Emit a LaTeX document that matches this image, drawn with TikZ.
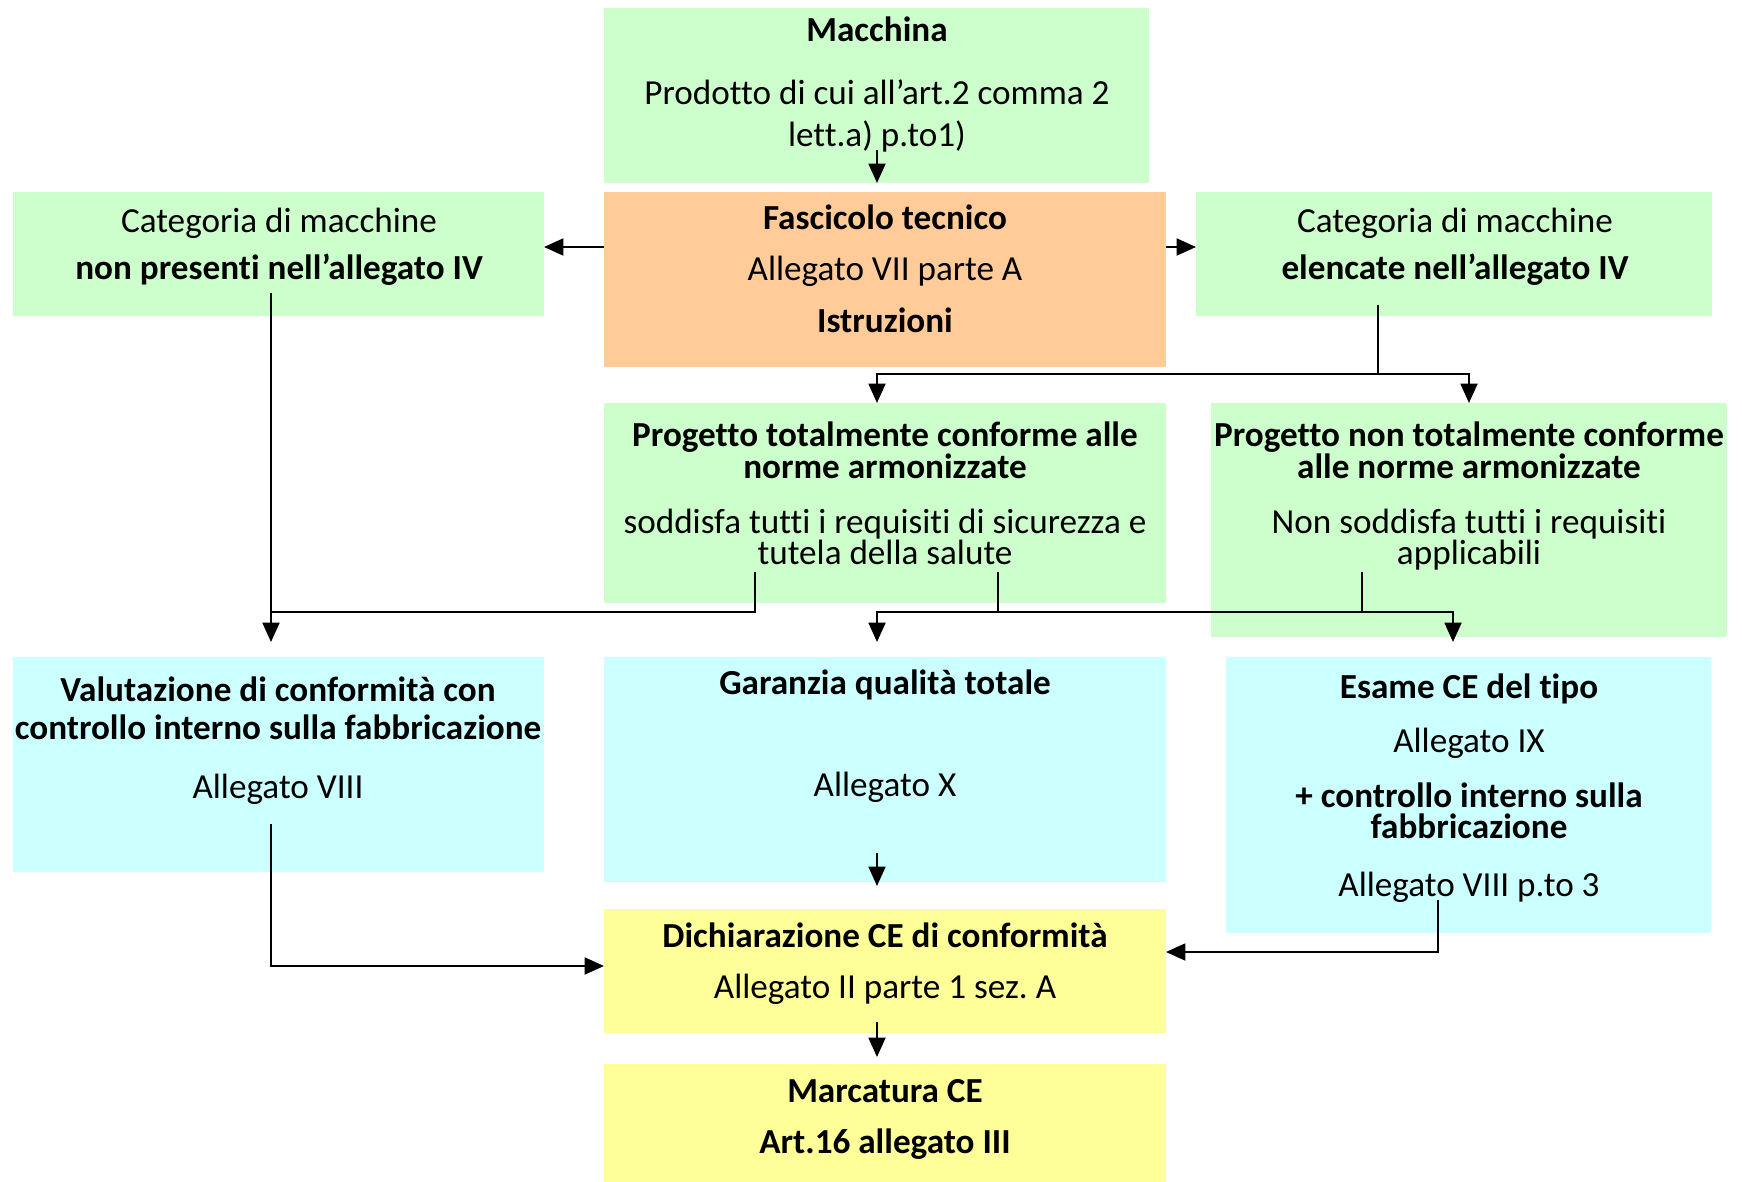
\documentclass[tikz,border=0pt]{standalone}
\usepackage{fontspec}
\setmainfont{Carlito}[Ligatures=NoCommon]
\usepackage{xcolor}
\usetikzlibrary{arrows.meta,fit}
\frenchspacing

\definecolor{cellgreen}{HTML}{CCFFCC}
\definecolor{cellorange}{HTML}{FFCC99}
\definecolor{cellcyan}{HTML}{CCFFFF}
\definecolor{cellyellow}{HTML}{FFFF99}

\tikzset{
  cell/.style={inner sep=0pt, outer sep=0pt},
  body/.style={anchor=base, inner sep=0pt, font=\fontsize{10}{10}\selectfont},
  head/.style={anchor=base, inner sep=0pt, font=\fontsize{10}{10}\selectfont\bfseries},
  link/.style={line width=0.65pt},
  arr/.style={link, -{Triangle[length=5.5pt,width=4.8pt]}},
}

\begin{document}
\begin{tikzpicture}[x=0.01cm,y=-0.01cm]
  \useasboundingbox (0,0) rectangle (1742,1182);
  % boxes
  \node[cell, fill=cellgreen, fit={(604,8) (1149,183)}] (mac) {};
  \node[cell, fill=cellorange, fit={(604,192) (1166,367)}] (fas) {};
  \node[cell, fill=cellgreen, fit={(13,192) (544,316)}] (lcat) {};
  \node[cell, fill=cellgreen, fit={(1196,192) (1712,316)}] (rcat) {};
  \node[cell, fill=cellgreen, fit={(604,403) (1166,603)}] (ptot) {};
  \node[cell, fill=cellgreen, fit={(1211,403) (1727,637)}] (pnon) {};
  \node[cell, fill=cellcyan, fit={(13,657) (544,872)}] (val) {};
  \node[cell, fill=cellcyan, fit={(604,657) (1166,882)}] (gar) {};
  \node[cell, fill=cellcyan, fit={(1226,657) (1711,933)}] (esa) {};
  \node[cell, fill=cellyellow, fit={(604,909) (1166,1033)}] (dich) {};
  \node[cell, fill=cellyellow, fit={(604,1064) (1166,1182)}] (marc) {};

  % texts
  \node[head] (mac1) at (877,42) {Macchina};
  \node[body] (mac2) at (877,105) {Prodotto di cui all’art.2 comma 2};
  \node[body] (mac3) at (877,147) {lett.a) p.to1)};
  \node[head] (fas1) at (885,229) {Fascicolo tecnico};
  \node[body] (fas2) at (885,281) {Allegato VII parte A};
  \node[head] (fas3) at (885,332) {Istruzioni};
  \node[body] (lcat1) at (279,232) {Categoria di macchine};
  \node[head] (lcat2) at (279,279) {non presenti nell’allegato IV};
  \node[body] (rcat1) at (1455,232) {Categoria di macchine};
  \node[head] (rcat2) at (1455,279) {elencate nell’allegato IV};
  \node[head] (ptot1) at (885,446) {Progetto totalmente conforme alle};
  \node[head] (ptot2) at (885,478) {norme armonizzate};
  \node[body] (ptot3) at (885,533) {soddisfa tutti i requisiti di sicurezza e};
  \node[body] (ptot4) at (885,564) {tutela della salute};
  \node[head] (pnon1) at (1469,446) {Progetto non totalmente conforme};
  \node[head] (pnon2) at (1469,478) {alle norme armonizzate};
  \node[body] (pnon3) at (1469,533) {Non soddisfa tutti i requisiti};
  \node[body] (pnon4) at (1469,564) {applicabili};
  \node[head] (val1) at (278,701) {Valutazione di conformità con};
  \node[head] (val2) at (278,739) {controllo interno sulla fabbricazione};
  \node[body] (val3) at (278,798) {Allegato VIII};
  \node[head] (gar1) at (885,694) {Garanzia qualità totale};
  \node[body] (gar2) at (885,796) {Allegato X};
  \node[head] (esa1) at (1469,698) {Esame CE del tipo};
  \node[body] (esa2) at (1469,752) {Allegato IX};
  \node[head] (esa3) at (1469,807) {+ controllo interno sulla};
  \node[head] (esa4) at (1469,838) {fabbricazione};
  \node[body] (esa5) at (1469,896) {Allegato VIII p.to 3};
  \node[head] (dich1) at (885,947) {Dichiarazione CE di conformità};
  \node[body] (dich2) at (885,998) {Allegato II parte 1 sez. A};
  \node[head] (marc1) at (885,1102) {Marcatura CE};
  \node[head] (marc2) at (885,1153) {Art.16 allegato III};

  % connectors
  \coordinate (macS) at (877,150);
  \draw[arr] (macS) -- (macS |- mac.south);
  \coordinate (fasW) at (604,247);
  \draw[arr] (fasW) -- (fasW -| lcat.east);
  \coordinate (fasE) at (1166,247);
  \draw[arr] (fasE) -- (fasE -| rcat.west);

  \coordinate (rcatS) at (1378,305);
  \coordinate (rcatJ) at (1378,374);
  \coordinate (ptotN) at (877,374);
  \draw[link] (rcatS) -- (rcatJ);
  \draw[arr] (rcatJ) -- (ptotN) -- (ptotN |- ptot.north);
  \draw[arr] (rcatJ) -| (pnon.north);

  \coordinate (lcatS) at (271,293);
  \coordinate (valN) at (271,642);
  \draw[arr] (lcatS) -- (valN);
  \coordinate (ptotL) at (755,572);
  \coordinate (lJoin) at (271,612);
  \draw[link] (ptotL) |- (lJoin);

  \coordinate (ptotR) at (998,572);
  \coordinate (mJoin) at (998,612);
  \coordinate (garN) at (877,642);
  \coordinate (esaN) at (1453,642);
  \draw[link] (ptotR) -- (mJoin);
  \draw[arr] (mJoin) -| (garN);
  \draw[arr] (mJoin) -| (esaN);
  \coordinate (pnonS) at (1362,572);
  \draw[link] (pnonS) -- (pnonS |- mJoin);

  \coordinate (garS) at (877,853);
  \coordinate (dichN) at (877,886);
  \draw[arr] (garS) -- (dichN);
  \coordinate (valS) at (271,824);
  \coordinate (dichW) at (604,966);
  \draw[arr] (valS) |- (dichW);
  \coordinate (esaS) at (1438,900);
  \coordinate (dichE) at (1166,952);
  \draw[arr] (esaS) |- (dichE);
  \coordinate (dichS) at (877,1022);
  \coordinate (marcN) at (877,1057);
  \draw[arr] (dichS) -- (marcN);
\end{tikzpicture}
\end{document}
